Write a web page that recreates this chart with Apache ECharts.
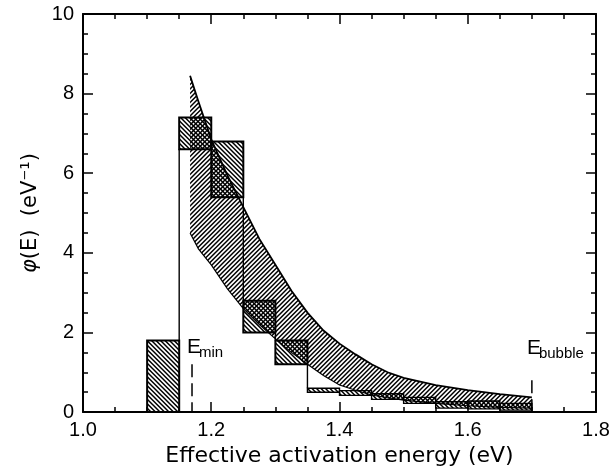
<!DOCTYPE html>
<html>
<head>
<meta charset="utf-8">
<script src="https://cdn.jsdelivr.net/npm/echarts@6/dist/echarts.min.js"></script>
<style>
  html, body { margin: 0; padding: 0; background: #fff; }
  #chart { width: 616px; height: 472px; }
</style>
</head>
<body>
<div id="chart"></div>
<script>
// Histogram of effective activation energies: bin edges and error-box limits (eV, eV^-1)
const binStart = [1.10, 1.15, 1.20, 1.25, 1.30, 1.35, 1.40, 1.45, 1.50, 1.55, 1.60, 1.65];
const binEnd   = [1.15, 1.20, 1.25, 1.30, 1.35, 1.40, 1.45, 1.50, 1.55, 1.60, 1.65, 1.70];
const binLow   = [0.00, 6.60, 5.40, 2.00, 1.20, 0.50, 0.42, 0.32, 0.22, 0.10, 0.08, 0.05];
const binHigh  = [1.80, 7.40, 6.80, 2.80, 1.80, 0.60, 0.54, 0.46, 0.37, 0.26, 0.28, 0.22];

// Model distribution band between E_min and E_bubble
const bandE     = [1.167, 1.18, 1.20, 1.225, 1.25, 1.275, 1.30, 1.325, 1.35, 1.375, 1.40, 1.425, 1.45, 1.475, 1.50, 1.55, 1.60, 1.65, 1.70];
const bandUpper = [8.45, 7.80, 6.85, 5.95, 5.15, 4.35, 3.70, 3.05, 2.50, 2.05, 1.72, 1.45, 1.20, 1.00, 0.86, 0.68, 0.55, 0.45, 0.37];
const bandLower = [4.50, 4.10, 3.70, 3.10, 2.60, 2.20, 1.84, 1.50, 1.20, 0.92, 0.68, 0.55, 0.43, 0.36, 0.30, 0.22, 0.16, 0.12, 0.10];

// Energy markers
const markerE    = [1.17, 1.70];
const markerTop  = [1.20, 0.80];
const markerMain = ['E', 'E'];
const markerSub  = ['min', 'bubble'];

// Axis tick labels
const xTicks = [1.0, 1.2, 1.4, 1.6, 1.8];
const xTickLabels = ['1.0', '1.2', '1.4', '1.6', '1.8'];
const yTicks = [0, 2, 4, 6, 8, 10];
const yTickLabels = ['0', '2', '4', '6', '8', '10'];

const FONT = '"Liberation Sans", Arial, Helvetica, sans-serif';
const TITLE_FONT = '"DejaVu Sans", "Liberation Sans", sans-serif';

// Diagonal hatch tile: two lines per 9px tile (4.5px pitch), seamless when repeated
function hatchTile(forward) {
  const size = 9, pitch = 4.5;
  const c = document.createElement('canvas');
  c.width = size; c.height = size;
  const g = c.getContext('2d');
  g.strokeStyle = '#000';
  g.lineWidth = 1.5;
  g.beginPath();
  for (let k = -2 * size; k <= 3 * size; k += pitch) {
    if (forward) {          // "/"  : x + y = const
      g.moveTo(k - size, 2 * size);
      g.lineTo(k + 2 * size, -size);
    } else {                // "\"  : x - y = const
      g.moveTo(k - size, -size);
      g.lineTo(k + 2 * size, 2 * size);
    }
  }
  g.stroke();
  return { image: c, repeat: 'repeat' };
}
const hatchFwd = hatchTile(true);
const hatchBack = hatchTile(false);

function axisCommon() {
  return {
    type: 'value',
    axisLine: { show: true, onZero: false, lineStyle: { color: '#000', width: 2 } },
    axisTick: { show: true, inside: true, length: 10, lineStyle: { color: '#000', width: 1.5 } },
    minorTick: { show: true, splitNumber: 4, length: 5, lineStyle: { color: '#000', width: 1.5 } },
    splitLine: { show: false },
    minorSplitLine: { show: false }
  };
}

const chart = echarts.init(document.getElementById('chart'), null, { renderer: 'canvas' });

const option = {
  backgroundColor: '#fff',
  animation: false,
  grid: { left: 83, right: 20, top: 14, bottom: 59 },
  xAxis: [
    Object.assign(axisCommon(), {
      position: 'bottom', min: 1.0, max: 1.8, interval: 0.2,
      name: 'Effective activation energy (eV)',
      nameLocation: 'middle', nameGap: 29,
      nameTextStyle: { color: '#000', fontSize: 22, fontFamily: TITLE_FONT },
      axisLabel: {
        color: '#000', fontSize: 20, fontFamily: FONT, margin: 8,
        formatter: v => xTickLabels[xTicks.findIndex(t => Math.abs(t - v) < 1e-6)] ?? ''
      }
    }),
    Object.assign(axisCommon(), {
      position: 'top', min: 1.0, max: 1.8, interval: 0.2,
      axisLabel: { show: false }
    })
  ],
  yAxis: [
    Object.assign(axisCommon(), {
      position: 'left', min: 0, max: 10, interval: 2,
      name: '{phi|φ}(E)  (eV⁻¹)',
      nameLocation: 'middle', nameGap: 32,
      nameTextStyle: {
        color: '#000', fontSize: 21, fontFamily: TITLE_FONT,
        rich: { phi: { fontStyle: 'italic', fontSize: 21, fontFamily: TITLE_FONT, color: '#000' } }
      },
      axisLabel: {
        color: '#000', fontSize: 20, fontFamily: FONT, margin: 9,
        formatter: v => yTickLabels[yTicks.findIndex(t => Math.abs(t - v) < 1e-6)] ?? ''
      }
    }),
    Object.assign(axisCommon(), {
      position: 'right', min: 0, max: 10, interval: 2,
      axisLabel: { show: false }
    })
  ],
  series: [
    {
      // shaded model band
      type: 'custom',
      xAxisIndex: 0, yAxisIndex: 0,
      silent: true,
      z: 2,
      data: [[bandE[0], bandUpper[0]]],
      renderItem: function (params, api) {
        const up = bandE.map((e, i) => api.coord([e, bandUpper[i]]));
        const lo = bandE.map((e, i) => api.coord([e, bandLower[i]]));
        return {
          type: 'group',
          children: [
            { type: 'polygon', shape: { points: up.concat(lo.slice().reverse()) },
              style: { fill: hatchFwd, stroke: null } },
            { type: 'polyline', shape: { points: up },
              style: { stroke: '#000', lineWidth: 1.8, fill: null } },
            { type: 'polyline', shape: { points: lo },
              style: { stroke: '#000', lineWidth: 1.2, fill: null } }
          ]
        };
      }
    },
    {
      // histogram error boxes and step connectors
      type: 'custom',
      xAxisIndex: 0, yAxisIndex: 0,
      silent: true,
      z: 3,
      data: binStart.map((s, i) => [s, binEnd[i], binLow[i], binHigh[i]]),
      encode: { x: [0, 1], y: [2, 3] },
      renderItem: function (params, api) {
        const i = params.dataIndex;
        const p0 = api.coord([api.value(0), api.value(3)]);
        const p1 = api.coord([api.value(1), api.value(2)]);
        const children = [{
          type: 'rect',
          shape: { x: p0[0], y: p0[1], width: p1[0] - p0[0], height: p1[1] - p0[1] },
          style: { fill: hatchBack, stroke: '#000', lineWidth: i < 5 ? 2 : 1.4 }
        }];
        if (i < binStart.length - 1) {
          let a = null, b = null;
          if (binLow[i] > binHigh[i + 1]) { a = binLow[i]; b = binHigh[i + 1]; }
          else if (binHigh[i] < binLow[i + 1]) { a = binHigh[i]; b = binLow[i + 1]; }
          if (a !== null) {
            const q0 = api.coord([binEnd[i], a]);
            const q1 = api.coord([binEnd[i], b]);
            children.push({
              type: 'line',
              shape: { x1: q0[0], y1: q0[1], x2: q1[0], y2: q1[1] },
              style: { stroke: '#000', lineWidth: 1.4 }
            });
          }
        }
        return { type: 'group', children: children };
      }
    },
    {
      // E_min / E_bubble markers
      type: 'custom',
      xAxisIndex: 0, yAxisIndex: 0,
      silent: true,
      z: 4,
      data: markerE.map((e, i) => [e, markerTop[i]]),
      renderItem: function (params, api) {
        const i = params.dataIndex;
        const top = api.coord([api.value(0), api.value(1)]);
        const base = api.coord([api.value(0), 0]);
        const baseline = i === 0 ? top[1] - 10 : top[1] - 25;
        return {
          type: 'group',
          children: [
            { type: 'line',
              shape: { x1: top[0], y1: top[1], x2: base[0], y2: base[1] },
              style: { stroke: '#000', lineWidth: 1.5, lineDash: [13, 6] } },
            { type: 'text',
              style: { text: markerMain[i], x: top[0] - 5, y: baseline - 7.5,
                       fontSize: 21, fontFamily: FONT, fill: '#000',
                       align: 'left', verticalAlign: 'middle',
                       textAlign: 'left', textVerticalAlign: 'middle' } },
            { type: 'text',
              style: { text: markerSub[i], x: top[0] + 7, y: baseline - 1.5,
                       fontSize: 15, fontFamily: FONT, fill: '#000',
                       align: 'left', verticalAlign: 'middle',
                       textAlign: 'left', textVerticalAlign: 'middle' } }
          ]
        };
      }
    }
  ]
};

chart.setOption(option);
</script>
</body>
</html>
